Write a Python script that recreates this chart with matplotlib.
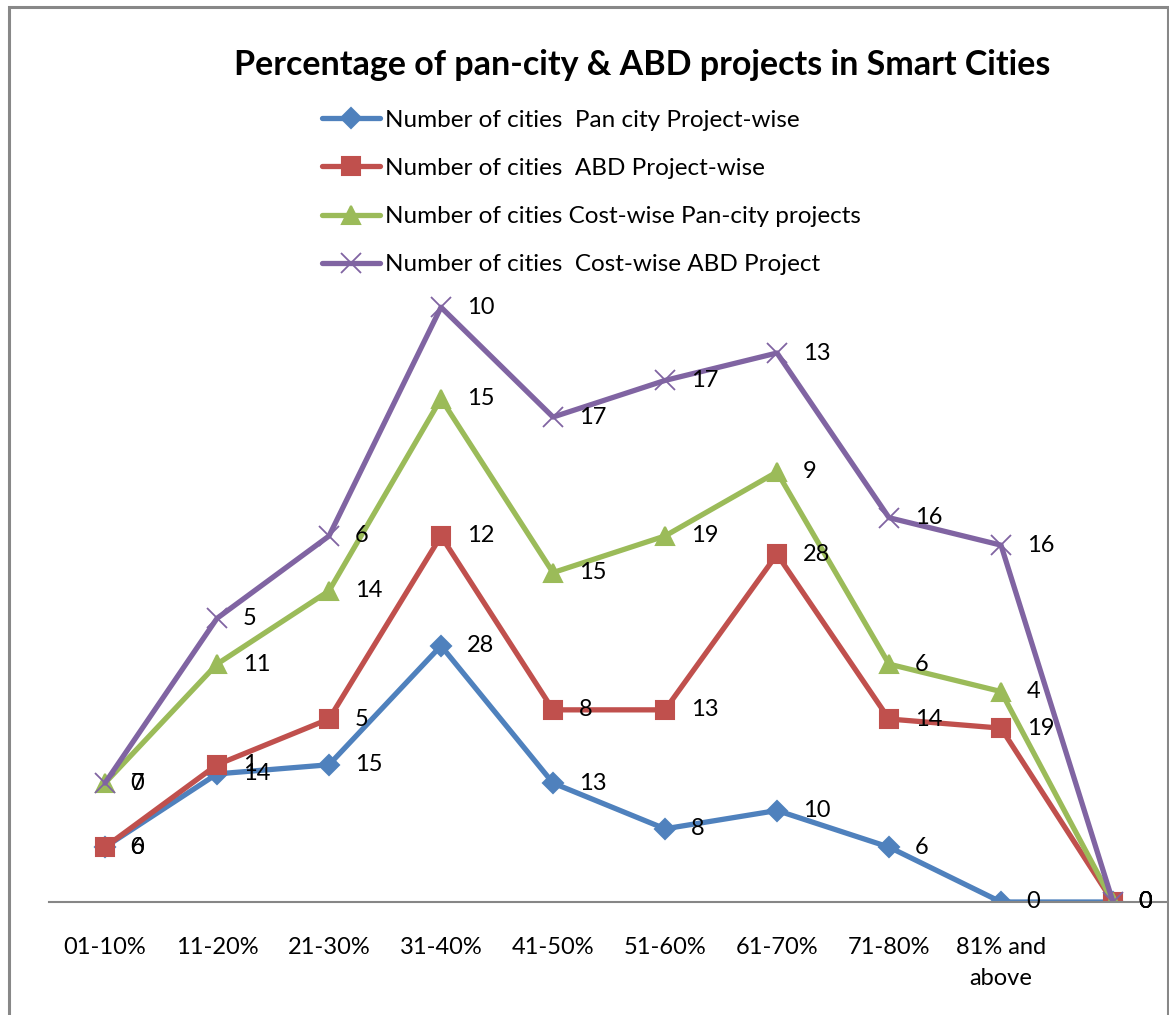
import numpy as np
import matplotlib
matplotlib.use("Agg")
import matplotlib.pyplot as plt
from matplotlib.patches import Rectangle

# Data (stacked line chart, labels show each series' own value)
categories = ["01-10%", "11-20%", "21-30%", "31-40%", "41-50%",
              "51-60%", "61-70%", "71-80%", "81% and\nabove", ""]
pan_city_project = [6, 14, 15, 28, 13, 8, 10, 6, 0, 0]
abd_project = [0, 1, 5, 12, 8, 13, 28, 14, 19, 0]
pan_city_cost = [7, 11, 14, 15, 15, 19, 9, 6, 4, 0]
abd_cost = [0, 5, 6, 10, 17, 17, 13, 16, 16, 0]

series_names = [
    "Number of cities  Pan city Project-wise",
    "Number of cities  ABD Project-wise",
    "Number of cities Cost-wise Pan-city projects",
    "Number of cities  Cost-wise ABD Project",
]
colors = ["#4F81BD", "#C0504D", "#9BBB59", "#8064A2"]
markers = ["D", "s", "^", "x"]
msizes = [10, 13, 13, 14]

plt.rcParams["font.family"] = ["Lato", "DejaVu Sans"]

W, H = 1169, 1015
fig = plt.figure(figsize=(W / 100, H / 100), dpi=100)

# chart border (bottom edge falls outside the picture)
fig.patches.append(Rectangle((9 / W, -0.02), 1159 / W, (H - 7) / H + 0.02,
                             transform=fig.transFigure, fill=False,
                             edgecolor="#888888", linewidth=2.2))

ax = fig.add_axes([49 / W, 113 / H, 1120 / W, 640.5 / H])
x = np.arange(len(categories))
values = [pan_city_project, abd_project, pan_city_cost, abd_cost]
cum = np.cumsum(np.array(values), axis=0)

for vals, tops, name, c, m, ms in zip(values, cum, series_names, colors, markers, msizes):
    ax.plot(x, tops, color=c, linewidth=3.8, marker=m, markersize=ms,
            markeredgecolor=c, markeredgewidth=1.5 if m != "x" else 1.3,
            label=name, solid_joinstyle="round", solid_capstyle="round")
    for xi, yi, v in zip(x, tops, vals):
        ax.annotate(str(v), (xi, yi), xytext=(18.5, 0), textcoords="offset points",
                    ha="left", va="center", fontsize=17, color="black")

ax.set_xlim(-0.5, 9.5)
ax.set_ylim(0, 70)
ax.set_yticks([])
for s in ["top", "right", "left"]:
    ax.spines[s].set_visible(False)
ax.spines["bottom"].set_color("#868686")
ax.spines["bottom"].set_linewidth(1.5)
ax.set_xticks(x)
ax.set_xticklabels(categories, fontsize=17, linespacing=1.6, va="top")
ax.tick_params(axis="x", length=0, pad=25)
ax.patch.set_alpha(0)

fig.text(642 / W, 1 - 65 / H, "Percentage of pan-city & ABD projects in Smart Cities",
         ha="center", va="center", fontsize=24.5, fontweight="bold")

fig.legend(loc="upper left", bbox_to_anchor=(312 / W, 1 - 100 / H),
           frameon=False, fontsize=17.5, handlelength=2.4, handletextpad=0.2,
           labelspacing=1.12, borderaxespad=0)

fig.savefig("out.png", dpi=100)
